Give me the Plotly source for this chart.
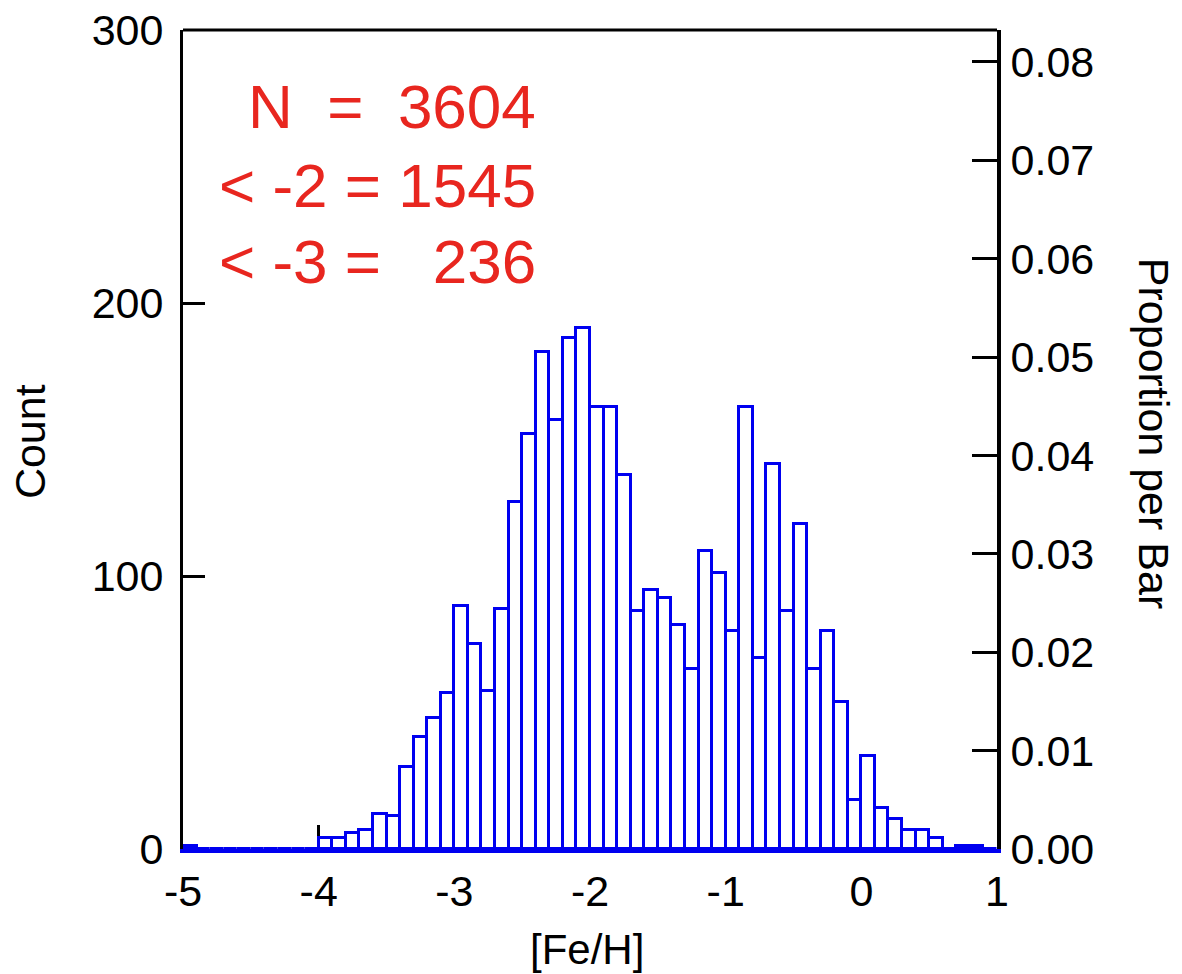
import plotly.graph_objects as go

# ---- data ----
bin_width = 0.1
bin_left = [round(-5.0 + 0.1 * i, 1) for i in range(60)]
counts = [
    1, 0, 0, 0, 0, 0, 0, 0, 0, 0,          # -5.0 .. -4.1
    4, 4, 6, 7, 13, 12, 30, 41, 48, 57,    # -4.0 .. -3.1
    89, 75, 58, 88, 127, 152, 182, 157, 187, 191,  # -3.0 .. -2.1
    162, 162, 137, 87, 95, 92, 82, 66, 109, 101,   # -2.0 .. -1.1
    80, 162, 70, 141, 87, 119, 66, 80, 54, 18,     # -1.0 .. -0.1
    34, 15, 11, 7, 7, 4, 0, 1, 1, 0,               # 0.0 .. 0.9
]
N_total = 3604
summary_lines = ["N\u00a0\u00a0=\u00a0\u00a03604", "<\u00a0-2\u00a0=\u00a01545", "<\u00a0-3\u00a0=\u00a0\u00a0\u00a0236"]
x_ticks = [-5, -4, -3, -2, -1, 0, 1]
x_tick_labels = ["-5", "-4", "-3", "-2", "-1", "0", "1"]
y_ticks = [0, 100, 200, 300]

centers = [b + bin_width / 2 for b in bin_left]
proportions = [c / N_total for c in counts]

BLUE = "#0000F0"
RED = "#E8261F"
FONT = "Arial, Liberation Sans, sans-serif"

fig = go.Figure()
fig.add_trace(go.Bar(
    x=centers, y=counts, width=bin_width,
    marker=dict(color="white", line=dict(color=BLUE, width=3)),
    showlegend=False, yaxis="y",
))
# invisible companion trace so the proportion axis is drawn
fig.add_trace(go.Scatter(
    x=centers, y=proportions, yaxis="y2", mode="markers",
    marker=dict(opacity=0, size=1), hoverinfo="skip", showlegend=False,
))

fig.update_layout(
    width=1182, height=974,
    margin=dict(l=183, r=185, t=30, b=125, autoexpand=False),
    paper_bgcolor="white", plot_bgcolor="white",
    font=dict(family=FONT, color="black", size=43),
    bargap=0,
    xaxis=dict(
        range=[-5, 1], tickvals=x_ticks, ticktext=x_tick_labels,
        showgrid=False, zeroline=False, automargin=False,
        showline=True, linecolor=BLUE, linewidth=4,
        ticks="inside", ticklen=24, tickwidth=3, tickcolor="black",
        layer="below traces", ticklabelstandoff=1,
        tickfont=dict(size=43, family=FONT),
    ),
    yaxis=dict(
        range=[0, 300], tickvals=y_ticks,
        showgrid=False, zeroline=False, automargin=False,
        showline=True, linecolor="black", linewidth=3,
        ticks="inside", ticklen=22, tickwidth=3, tickcolor="black",
        layer="below traces", ticklabelstandoff=8,
        tickfont=dict(size=43, family=FONT),
    ),
    yaxis2=dict(
        overlaying="y", side="right", anchor="x",
        range=[0, 300 / N_total], dtick=0.01, tick0=0, tickformat=".2f",
        showgrid=False, zeroline=False, automargin=False,
        showline=True, linecolor="black", linewidth=4,
        ticks="inside", ticklen=25, tickwidth=3, tickcolor="black",
        ticklabelstandoff=1,
        tickfont=dict(size=43, family=FONT),
    ),
    shapes=[dict(type="line", xref="paper", yref="paper", x0=0, x1=1, y0=1, y1=1,
                 line=dict(color="black", width=3))],
)

# red summary text
line_y = [272.0, 242.9, 215.1]
for txt, yv in zip(summary_lines, line_y):
    fig.add_annotation(x=-2.38, y=yv, xref="x", yref="y", text=txt, showarrow=False,
                       xanchor="right", yanchor="middle",
                       font=dict(family=FONT, size=62, color=RED))

# axis titles
fig.add_annotation(x=-0.188, y=0.498, xref="paper", yref="paper", text="Count",
                   textangle=-90, showarrow=False, xanchor="center", yanchor="middle",
                   font=dict(family=FONT, size=43, color="black"))
fig.add_annotation(x=0.496, y=-0.123, xref="paper", yref="paper", text="[Fe/H]",
                   showarrow=False, xanchor="center", yanchor="middle",
                   font=dict(family=FONT, size=42, color="black"))
fig.add_annotation(x=1.193, y=0.508, xref="paper", yref="paper", text="Proportion per Bar",
                   textangle=90, showarrow=False, xanchor="center", yanchor="middle",
                   font=dict(family=FONT, size=43, color="black"))

fig.write_html("out.html")
